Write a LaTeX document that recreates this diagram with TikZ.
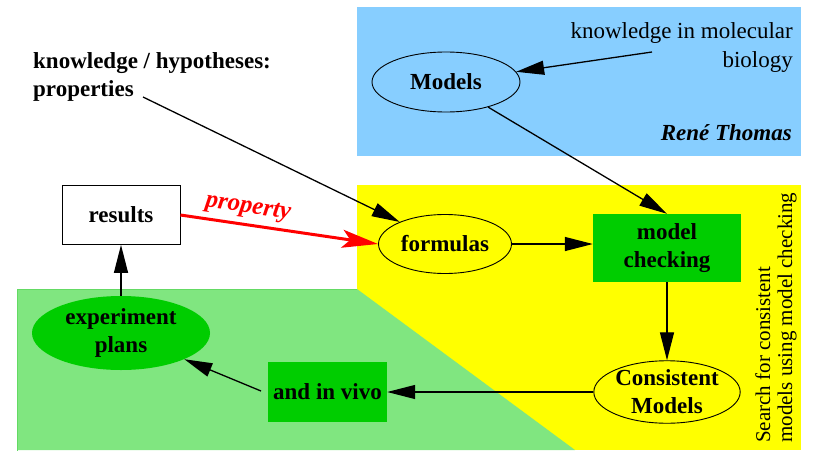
\documentclass[tikz,border=0pt]{standalone}
\usepackage{fontspec}
\setmainfont{Liberation Serif}
\usetikzlibrary{arrows.meta,shapes.geometric}
\definecolor{skyblue}{RGB}{135,206,255}
\definecolor{checkyellow}{RGB}{255,255,0}
\definecolor{planegreen}{RGB}{128,230,128}
\definecolor{planeedge}{RGB}{100,218,100}
\definecolor{boxgreen}{RGB}{0,205,0}
\definecolor{propred}{RGB}{255,0,0}
\begin{document}
\begin{tikzpicture}[x=1pt,y=-1pt,
  txt/.style={font=\fontsize{23}{29}\selectfont, inner sep=0pt},
  lbl/.style={font=\fontsize{23}{28}\selectfont\bfseries, align=center, inner sep=0pt},
  oval/.style={lbl, ellipse, draw, line width=0.9pt},
  greenoval/.style={lbl, ellipse, fill=boxgreen},
  greenbox/.style={lbl, rectangle, fill=boxgreen},
  arr/.style={-{Triangle[length=28pt,width=14pt]}, line width=1.3pt},
  redarr/.style={-{Stealth[length=36pt,width=18pt,inset=8pt]}, line width=3pt, draw=propred, color=propred},
]
\useasboundingbox (0,0) rectangle (814,450);

% background regions
\fill[skyblue] (357,7) rectangle (801,156);
\fill[checkyellow] (357,185) rectangle (801,450);
\fill[planegreen] (575,450) -- (357,289) -- (17,289) -- (17,450) -- cycle;
\draw[planeedge, line width=1pt] (357,289) -- (17,289) -- (17,451);

% free texts
\node[txt, align=right, anchor=north east] (kmol) at (793,22) {knowledge in molecular\\biology};
\node[txt, font=\fontsize{23}{29}\selectfont\bfseries\itshape, anchor=base east] (rene) at (792,140) {René Thomas};
\node[txt, font=\fontsize{23}{28}\selectfont\bfseries, align=left, anchor=north west] (khyp) at (33,52) {knowledge / hypotheses:\\properties};
\node[txt, font=\fontsize{21}{22}\selectfont, align=left, rotate=90, anchor=west] (search) at (776,443) {Search for consistent\\models using model checking};

% nodes
\node[oval, minimum width=148pt, minimum height=60pt] (models) at (446,82) {Models};
\node[oval, minimum width=133pt, minimum height=59pt] (formulas) at (445,244) {formulas};
\node[greenbox, minimum width=148pt, minimum height=68pt] (mc) at (667,248) {model\\checking};
\node[oval, minimum width=134pt, minimum height=60pt] (cons) at (667,392) {Consistent\\Models};
\node[greenbox, minimum width=119pt, minimum height=60pt] (vivo) at (327.5,392) {and in vivo};
\node[greenoval, minimum width=178pt, minimum height=74pt] (exp) at (121,333) {experiment\\plans};
\node[lbl, draw, fill=white, line width=0.8pt, minimum width=118pt, minimum height=59pt] (results) at (121,215) {results};

% connector tails
\coordinate (kmoltail) at (652,52);
\coordinate (proptail) at (143,97);
\coordinate (vivotail) at (261,391);

% connectors
\draw[arr] (kmoltail) -- (models);
\draw[arr] (models) -- (mc.north);
\draw[arr] (proptail) -- (formulas);
\draw[redarr] (results.east) -- node[pos=0.33, above=5pt, sloped, font=\fontsize{25}{27}\selectfont\bfseries\itshape, inner sep=0pt] {property} (formulas.west);
\draw[arr] (formulas.east) -- (formulas.east -| mc.west);
\draw[arr] (mc.south) -- (cons.north);
\draw[arr] (cons.west) -- (vivo.east);
\draw[arr] (vivotail) -- (exp);
\draw[arr] (exp.north) -- (results.south);
\end{tikzpicture}
\end{document}
